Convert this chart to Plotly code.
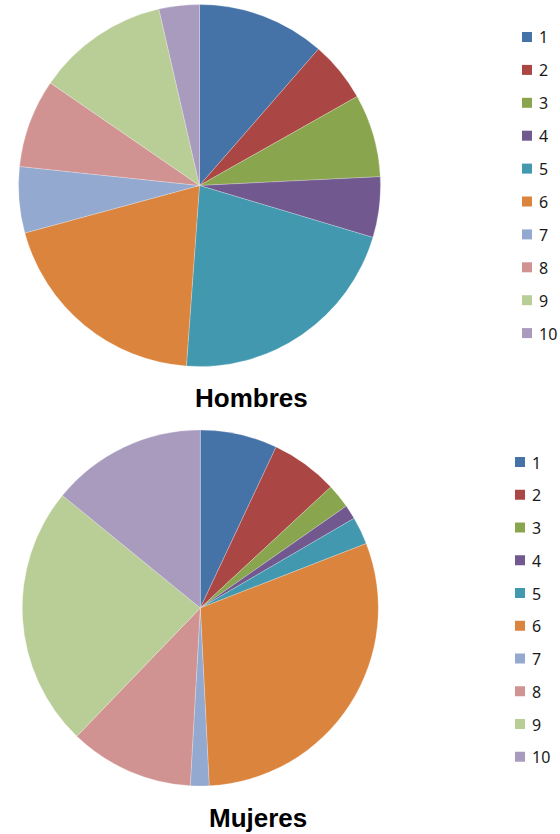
import plotly.graph_objects as go

# ---- data ----
categories = ["1", "2", "3", "4", "5", "6", "7", "8", "9", "10"]
hombres = [11.4, 5.4, 7.4, 5.4, 21.5, 19.6, 5.9, 7.9, 11.8, 3.6]
mujeres = [7.0, 6.1, 2.2, 1.3, 2.5, 30.1, 1.7, 11.3, 23.7, 14.1]
titles = ["Hombres", "Mujeres"]
colors = ["#4572A7", "#AA4643", "#89A54E", "#71588F", "#4198AF",
          "#DB843D", "#93A9CF", "#D19392", "#B9CD96", "#A99BBD"]

W, H = 560, 834


def px(x):
    return x / W


def py(y):
    return 1 - y / H


def domain(cx, cy, r):
    return dict(x=[px(cx - r), px(cx + r)], y=[py(cy + r), py(cy - r)])


fig = go.Figure()
pie_specs = [
    dict(values=hombres, center=(199.5, 185.5), r=181),
    dict(values=mujeres, center=(200.3, 608.0), r=178),
]
for spec in pie_specs:
    fig.add_trace(go.Pie(
        labels=categories,
        values=spec["values"],
        sort=False,
        direction="clockwise",
        rotation=0,
        marker=dict(colors=colors, line=dict(color="rgba(255,255,255,0.6)", width=0.4)),
        textinfo="none",
        hoverinfo="label+percent",
        showlegend=False,
        domain=domain(spec["center"][0], spec["center"][1], spec["r"]),
    ))

annotations = []
shapes = []

# titles
title_pos = [(251, 398), (258, 818)]
for t, (tx, ty) in zip(titles, title_pos):
    annotations.append(dict(
        text=f"<b>{t}</b>", x=px(tx), y=py(ty), xref="paper", yref="paper",
        xanchor="center", yanchor="middle", showarrow=False,
        font=dict(family="Liberation Sans, Arial, sans-serif", size=26, color="#000000"),
    ))

# legends (one per pie)
legend_specs = [
    dict(mx=522, tx=537, y0=37.0, step=32.9),
    dict(mx=515, tx=530, y0=462.0, step=32.75),
]
box = 10
for ls in legend_specs:
    for i, (lab, col) in enumerate(zip(categories, colors)):
        yc = ls["y0"] + i * ls["step"]
        shapes.append(dict(
            type="rect", xref="paper", yref="paper",
            x0=px(ls["mx"]), x1=px(ls["mx"] + box),
            y0=py(yc + box / 2), y1=py(yc - box / 2),
            fillcolor=col, line=dict(width=0),
        ))
        annotations.append(dict(
            text=lab, x=px(ls["tx"]), y=py(yc + 0.5), xref="paper", yref="paper",
            xanchor="left", yanchor="middle", showarrow=False,
            font=dict(family="Noto Sans, DejaVu Sans, sans-serif", size=16, color="#1a1a1a"),
        ))

fig.update_layout(
    width=W, height=H,
    margin=dict(l=0, r=0, t=0, b=0),
    paper_bgcolor="white",
    plot_bgcolor="white",
    showlegend=False,
    annotations=annotations,
    shapes=shapes,
)

fig.write_html(
    "out.html",
    config={"displayModeBar": False},
    post_script="document.body.style.margin='0';document.body.style.padding='0';"
                "document.body.style.overflow='hidden';",
)
